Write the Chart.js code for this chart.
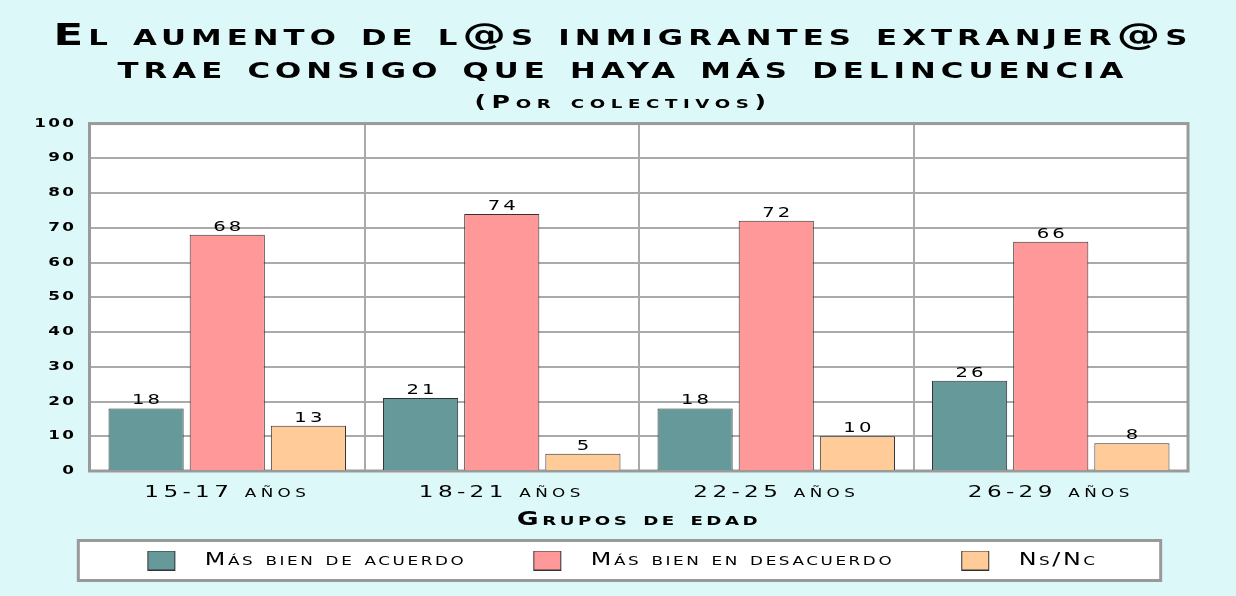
<!DOCTYPE html>
<html>
<head>
<meta charset="utf-8">
<script src="https://cdn.jsdelivr.net/npm/chart.js@4"></script>
<style>
html,body{margin:0;padding:0;background:#ddf8f8;}
#wrap{width:1236px;height:596px;}
</style>
</head>
<body>
<div id="wrap"><canvas id="c" width="1236" height="596"></canvas></div>
<script>
const categories = ['15-17 años', '18-21 años', '22-25 años', '26-29 años'];
const seriesNames = ['Más bien de acuerdo', 'Más bien en desacuerdo', 'Ns/Nc'];
const deAcuerdo = [18, 21, 18, 26];
const enDesacuerdo = [68, 74, 72, 66];
const nsnc = [13, 5, 10, 8];
const yTicks = [0, 10, 20, 30, 40, 50, 60, 70, 80, 90, 100];
const titleLines = ['El aumento de l@s inmigrantes extranjer@s', 'trae consigo que haya más delincuencia'];
const subtitleText = '(Por colectivos)';
const xTitle = 'Grupos de edad';

const colors = ['#669999', '#ff9999', '#ffcc99'];
const FAMILY = "'DejaVu Sans', sans-serif";

// emulate the wide, letter-spaced small-caps typeface of the original
const WIDEN = 1.4;
const SPACING_BY_SIZE = { 31: 3.6, 18: 4.0, 19: 2.5, 17: 1.85, 16.5: 3.1, 12: 1.7, 14: 2.2 };
const canvas = document.getElementById('c');
const ctx = canvas.getContext('2d');
(function patch(ctx){
  const d = Object.getOwnPropertyDescriptor(CanvasRenderingContext2D.prototype, 'font');
  Object.defineProperty(ctx, 'font', {
    configurable: true,
    get(){ return d.get.call(this); },
    set(v){
      d.set.call(this, v);
      const m = /([\d.]+)px/.exec(v);
      const s = m ? parseFloat(m[1]) : 12;
      const ls = SPACING_BY_SIZE[s] !== undefined ? SPACING_BY_SIZE[s] : s * 0.15;
      if ('letterSpacing' in this) this.letterSpacing = ls + 'px';
      if ('fontVariantCaps' in this) this.fontVariantCaps = v.indexOf('small-caps') >= 0 ? 'small-caps' : 'normal';
    }
  });
  const fill = ctx.fillText;
  ctx.fillText = function(t, x, y, mw){
    this.save();
    this.translate(x, y);
    this.scale(WIDEN, 1);
    if (mw === undefined || mw === null) fill.call(this, t, 0, 0);
    else fill.call(this, t, 0, 0, mw / WIDEN);
    this.restore();
  };
  const measure = ctx.measureText;
  ctx.measureText = function(t){
    const m = measure.call(this, t);
    return {
      width: m.width * WIDEN,
      actualBoundingBoxLeft: m.actualBoundingBoxLeft * WIDEN,
      actualBoundingBoxRight: m.actualBoundingBoxRight * WIDEN,
      actualBoundingBoxAscent: m.actualBoundingBoxAscent,
      actualBoundingBoxDescent: m.actualBoundingBoxDescent,
      fontBoundingBoxAscent: m.fontBoundingBoxAscent,
      fontBoundingBoxDescent: m.fontBoundingBoxDescent
    };
  };
})(ctx);

// legend swatch: coloured rectangle inside a transparent box so that the
// spacing between the swatch, its text and the next item matches the original
const SW_OFFSET = 57;
const SW_BOX = 106;
function swatch(color){
  const c = document.createElement('canvas');
  c.width = SW_BOX; c.height = 20;
  const g = c.getContext('2d');
  g.fillStyle = color; g.fillRect(SW_OFFSET, 0, 28, 20);
  g.strokeStyle = '#333'; g.lineWidth = 1; g.strokeRect(SW_OFFSET + 0.5, 0.5, 27, 19);
  return c;
}
const swatches = colors.map(swatch);

const bgPlugin = {
  id: 'bg',
  afterLayout(chart){
    // the heading is centred on the whole page, not on the padded area
    chart.boxes.forEach(b => {
      if (b === chart.titleBlock || (b.options && b.options.text === subtitleText)) {
        b.left = 0; b.right = chart.width + 10; b.width = b.right - b.left;
      }
    });
  },
  beforeDraw(chart){
    const g = chart.ctx, a = chart.chartArea;
    g.save();
    g.fillStyle = '#ddf8f8';
    g.fillRect(0, 0, chart.width, chart.height);
    g.fillStyle = '#ffffff';
    g.fillRect(a.left, a.top, a.right - a.left, a.bottom - a.top);
    const hb = chart.legend && chart.legend.legendHitBoxes;
    if (hb && hb.length){
      const first = hb[0], last = hb[hb.length - 1];
      const l = first.left + SW_OFFSET - 69, r = last.left + last.width + 63;
      const t = first.top - 11.5, b = first.top + first.height + 11.5;
      g.fillStyle = '#ffffff';
      g.fillRect(l, t, r - l, b - t);
      g.strokeStyle = '#999999'; g.lineWidth = 3;
      g.strokeRect(l, t, r - l, b - t);
    }
    g.restore();
  },
  beforeDatasetsDraw(chart){
    const g = chart.ctx, a = chart.chartArea;
    g.save();
    g.strokeStyle = '#9a9a9a'; g.lineWidth = 3;
    g.strokeRect(a.left - 0.5, a.top, a.right - a.left + 0.5, a.bottom - a.top);
    g.restore();
  }
};

const valueLabels = {
  id: 'valueLabels',
  afterDatasetsDraw(chart){
    const g = chart.ctx;
    g.save();
    g.font = 'normal 14px ' + FAMILY;
    g.fillStyle = '#000';
    g.textAlign = 'center';
    g.textBaseline = 'alphabetic';
    chart.data.datasets.forEach((ds, i) => {
      chart.getDatasetMeta(i).data.forEach((el, j) => {
        g.fillText(String(ds.data[j]), el.x + 1.5, el.y - 4);
      });
    });
    g.restore();
  }
};

new Chart(ctx, {
  type: 'bar',
  data: {
    labels: categories,
    datasets: [
      { label: seriesNames[0], data: deAcuerdo, backgroundColor: colors[0] },
      { label: seriesNames[1], data: enDesacuerdo, backgroundColor: colors[1] },
      { label: seriesNames[2], data: nsnc, backgroundColor: colors[2] }
    ]
  },
  options: {
    responsive: false,
    animation: false,
    devicePixelRatio: 1,
    layout: { padding: { left: 0, right: 48, top: 0, bottom: 17 } },
    datasets: {
      bar: { categoryPercentage: 0.887, barPercentage: 0.926, borderWidth: 1, borderColor: '#333333' }
    },
    scales: {
      x: {
        grid: { display: true, offset: true, color: '#aaaaaa', lineWidth: 2, drawTicks: false },
        border: { display: false },
        ticks: { color: '#000', padding: 12, font: { family: FAMILY, size: 16.5, weight: 'small-caps normal' }, maxRotation: 0 },
        title: { display: true, text: xTitle, color: '#000', padding: { top: 0, bottom: 10.6 }, font: { family: FAMILY, size: 19, weight: 'small-caps bold' } },
        afterFit(s){ s.height = 71; }
      },
      y: {
        min: 0, max: 100,
        afterBuildTicks(s){ s.ticks = yTicks.map(v => ({ value: v })); },
        grid: { color: '#aaaaaa', lineWidth: 2, drawTicks: false },
        border: { display: false },
        ticks: { color: '#000', padding: 13.6, font: { family: FAMILY, size: 12, weight: 'bold' } },
        afterFit(s){ s.width = 90; }
      }
    },
    plugins: {
      title: {
        display: true, text: titleLines, color: '#000',
        padding: { top: 20, bottom: 0 },
        font: { family: FAMILY, size: 31, weight: 'small-caps bold', lineHeight: 1.08 }
      },
      subtitle: {
        display: true, text: subtitleText, color: '#000',
        padding: { top: 5.5, bottom: 9.5 },
        font: { family: FAMILY, size: 18, weight: 'small-caps bold', lineHeight: 1.2 }
      },
      legend: {
        position: 'bottom',
        labels: {
          color: '#000',
          usePointStyle: true,
          pointStyleWidth: SW_BOX,
          padding: 10,
          font: { family: FAMILY, size: 17, weight: 'small-caps normal' },
          generateLabels(chart){
            const items = Chart.defaults.plugins.legend.labels.generateLabels(chart);
            items.forEach((it, i) => { it.pointStyle = swatches[i]; });
            return items;
          }
        }
      },
      tooltip: { enabled: false }
    }
  },
  plugins: [bgPlugin, valueLabels]
});
</script>
</body>
</html>
